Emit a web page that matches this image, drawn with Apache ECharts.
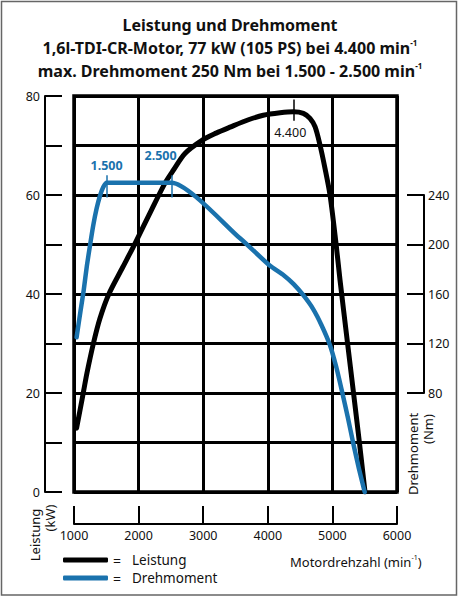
<!DOCTYPE html>
<html>
<head>
<meta charset="utf-8">
<script src="https://cdn.jsdelivr.net/npm/echarts@6/dist/echarts.min.js"></script>
<style>
  html, body { margin: 0; padding: 0; background: #fff; }
  #chart { width: 460px; height: 597px; }
</style>
</head>
<body>
<div id="chart"></div>
<script>
const FONT = "Noto Sans";
const BLUE = "#1a72ad";

// Leistung (kW) ueber Motordrehzahl
const powerRpm = [1040, 1100, 1150, 1200, 1300, 1400, 1540, 1750, 1944, 2200, 2409, 2537, 2718, 2975,
  3200, 3415, 3700, 3930, 4190, 4395, 4550, 4653, 4731, 4808, 4885, 4963, 5056, 5118, 5235, 5327, 5418, 5505];
const powerKw = [12.9, 17, 20.5, 24, 30, 35, 40, 45.3, 50.2, 57, 62.4, 65, 68.4, 71,
  72.5, 73.7, 75.2, 76.1, 76.6, 76.8, 76.5, 75.5, 73.8, 70.1, 65.4, 60, 50.2, 42.8, 30, 20, 10, 0];

// Drehmoment (Nm) ueber Motordrehzahl
const torqueRpm = [1040, 1100, 1150, 1200, 1250, 1300, 1350, 1400, 1450, 1505, 2510, 3570, 4030, 4250,
  4400, 4550, 4700, 4830, 4960, 5060, 5150, 5240, 5320, 5410, 5500];
const torqueNm = [125, 146, 163, 183, 200, 216, 229, 239, 246, 250, 250, 205, 183, 175,
  168, 159, 148, 135, 119, 101, 81, 60, 40, 19, 0];

// Markierungen
const torqueMarkRpm = [1505, 2510];
const torqueMarkText = ["1.500", "2.500"];
const powerMarkRpm = [4395];
const powerMarkText = ["4.400"];

const leftTicks = [0, 20, 40, 60, 80];

const zip = (a, b) => a.map((v, i) => [v, b[i]]);
const valAt = (xs, ys, x) => ys[xs.indexOf(x)];

const chart = echarts.init(document.getElementById("chart"), null, { renderer: "svg" });

const axisLineStyle = { color: "#000", width: 2 };
const labelStyle = { color: "#111", fontSize: 12.5, fontFamily: FONT };

chart.setOption({
  backgroundColor: "#fff",
  animation: false,
  textStyle: { fontFamily: FONT },
  grid: [
    { left: 74, top: 96, width: 323, height: 396, show: true, borderColor: "#000", borderWidth: 3.5, containLabel: false },
    { left: 380, top: 195, width: 44, height: 198, containLabel: false },
  ],
  xAxis: [
    {
      type: "value", gridIndex: 0, min: 1000, max: 6000, interval: 1000,
      position: "bottom", offset: 32,
      axisLine: { show: true, onZero: false, lineStyle: axisLineStyle },
      axisTick: { show: true, inside: true, length: 18, lineStyle: axisLineStyle },
      axisLabel: { ...labelStyle, margin: 5, formatter: v => String(v) },
      splitLine: { show: true, lineStyle: { color: "#000", width: 3 } },
    },
    { type: "value", gridIndex: 1, show: false, min: 0, max: 1 },
  ],
  yAxis: [
    {
      type: "value", gridIndex: 0, min: 0, max: 80, interval: 10,
      position: "left", offset: 29,
      axisLine: { show: true, onZero: false, lineStyle: axisLineStyle },
      axisTick: { show: true, inside: true, length: 17, lineStyle: axisLineStyle },
      axisLabel: { ...labelStyle, margin: 5, formatter: v => leftTicks.includes(v) ? String(v) : "" },
      splitLine: { show: true, lineStyle: { color: "#000", width: 3 } },
    },
    {
      type: "value", gridIndex: 1, min: 80, max: 240, interval: 40,
      position: "right",
      axisLine: { show: true, onZero: false, lineStyle: axisLineStyle },
      axisTick: { show: true, inside: true, length: 17, lineStyle: axisLineStyle },
      axisLabel: { ...labelStyle, margin: 4, formatter: v => String(v) },
      splitLine: { show: false },
    },
    { type: "value", gridIndex: 0, min: 0, max: 320, show: false },
  ],
  legend: {
    data: ["Leistung", "Drehmoment"],
    orient: "vertical",
    left: 58, top: 548,
    itemWidth: 45, itemHeight: 5, itemGap: 4,
    icon: "roundRect",
    formatter: name => "{eq|=}{t|" + name + "}",
    textStyle: {
      color: "#111",
      rich: {
        eq: { width: 19, fontSize: 14, fontFamily: FONT, color: "#111" },
        t: { fontSize: 13.5, fontFamily: FONT, color: "#111" },
      },
    },
  },
  series: [
    {
      name: "Leistung", type: "line", xAxisIndex: 0, yAxisIndex: 0,
      data: zip(powerRpm, powerKw),
      smooth: 0.3, showSymbol: false, symbol: "none",
      lineStyle: { color: "#000", width: 5, cap: "round", join: "round" },
      itemStyle: { color: "#000" },
      markLine: {
        silent: true, symbol: "none", animation: false,
        lineStyle: { color: "#000", width: 1.5, type: "solid" },
        label: { show: false },
        data: powerMarkRpm.map(r => [{ coord: [r, 79.3] }, { coord: [r, 75] }]),
      },
      markPoint: {
        silent: true, symbol: "circle", symbolSize: 1,
        itemStyle: { color: "rgba(0,0,0,0)" },
        label: { show: true, position: "inside", color: "#111", fontSize: 12.5, fontFamily: FONT, offset: [-3, 21] },
        data: powerMarkRpm.map((r, i) => ({ coord: [r, valAt(powerRpm, powerKw, r)], value: powerMarkText[i],
          label: { formatter: powerMarkText[i] } })),
      },
      z: 3,
    },
    {
      name: "Drehmoment", type: "line", xAxisIndex: 0, yAxisIndex: 2,
      data: zip(torqueRpm, torqueNm),
      smooth: 0.2, showSymbol: false, symbol: "none",
      lineStyle: { color: BLUE, width: 4.5, cap: "round", join: "round" },
      itemStyle: { color: BLUE },
      markLine: {
        silent: true, symbol: "none", animation: false,
        lineStyle: { color: BLUE, width: 1.5, type: "solid" },
        label: { show: false },
        data: torqueMarkRpm.map(r => [{ coord: [r, 256] }, { coord: [r, 238] }]),
      },
      markPoint: {
        silent: true, symbol: "circle", symbolSize: 1,
        itemStyle: { color: "rgba(0,0,0,0)" },
        label: { show: true, position: "inside", color: BLUE, fontSize: 12.5, fontWeight: "bold", fontFamily: FONT },
        data: torqueMarkRpm.map((r, i) => ({ coord: [r, valAt(torqueRpm, torqueNm, r)], value: torqueMarkText[i],
          label: { formatter: torqueMarkText[i], offset: i === 0 ? [0, -17] : [-11, -27] } })),
      },
      z: 4,
    },
  ],
  graphic: [
    { type: "rect", shape: { x: 1.5, y: 1.5, width: 455, height: 593.5 }, style: { fill: "none", stroke: "#666", lineWidth: 1.5 }, z: 0 },
    { type: "text", style: { x: 230, y: 25, text: "Leistung und Drehmoment", align: "center", verticalAlign: "middle",
      fontSize: 16, fontWeight: "bold", fontFamily: FONT, fill: "#111" } },
    { type: "text", style: { x: 230, y: 48, align: "center", verticalAlign: "middle", fill: "#111",
      text: "{m|1,6l-TDI-CR-Motor, 77 kW (105 PS) bei 4.400 min}{s|-1}",
      rich: { m: { fontSize: 16, fontWeight: "bold", fontFamily: FONT, fill: "#111", lineHeight: 20 },
              s: { fontSize: 8, fontWeight: "bold", fontFamily: FONT, fill: "#111", verticalAlign: "top", lineHeight: 10 } } } },
    { type: "text", style: { x: 230, y: 71, align: "center", verticalAlign: "middle", fill: "#111",
      text: "{m|max. Drehmoment 250 Nm bei 1.500 - 2.500 min}{s|-1}",
      rich: { m: { fontSize: 16, fontWeight: "bold", fontFamily: FONT, fill: "#111", lineHeight: 20 },
              s: { fontSize: 8, fontWeight: "bold", fontFamily: FONT, fill: "#111", verticalAlign: "top", lineHeight: 10 } } } },
    { type: "text", x: 35, y: 535, rotation: Math.PI / 2,
      style: { x: 0, y: 0, text: "Leistung", align: "center", verticalAlign: "middle", fontSize: 13, fontFamily: FONT, fill: "#111" } },
    { type: "text", x: 50, y: 518, rotation: Math.PI / 2,
      style: { x: 0, y: 0, text: "(kW)", align: "center", verticalAlign: "middle", fontSize: 13, fontFamily: FONT, fill: "#111" } },
    { type: "text", x: 413, y: 454, rotation: Math.PI / 2,
      style: { x: 0, y: 0, text: "Drehmoment", align: "center", verticalAlign: "middle", fontSize: 13, fontFamily: FONT, fill: "#111" } },
    { type: "text", x: 428, y: 429, rotation: Math.PI / 2,
      style: { x: 0, y: 0, text: "(Nm)", align: "center", verticalAlign: "middle", fontSize: 13, fontFamily: FONT, fill: "#111" } },
    { type: "text", style: { x: 290, y: 562, align: "left", verticalAlign: "middle", fill: "#111",
      text: "{m|Motordrehzahl (min}{s|-1}{m|)}",
      rich: { m: { fontSize: 13, fontFamily: FONT, fill: "#111", lineHeight: 16 },
              s: { fontSize: 7, fontFamily: FONT, fill: "#111", verticalAlign: "top", lineHeight: 9 } } } },
  ],
});

window.addEventListener("resize", () => chart.resize());
</script>
</body>
</html>
